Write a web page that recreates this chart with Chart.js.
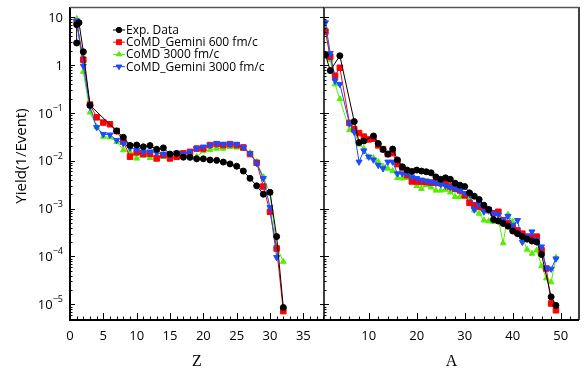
<!DOCTYPE html>
<html>
<head>
<meta charset="utf-8">
<script src="https://cdn.jsdelivr.net/npm/chart.js@4.4.0/dist/chart.umd.min.js"></script>
<style>
    html, body { margin: 0; padding: 0; background: #fff; }
    #wrap { position: relative; width: 584px; height: 374px; }
    canvas { position: absolute; left: 0; top: 0; }
</style>
</head>
<body>
<div id="wrap">
    <canvas id="chartZ" width="584" height="374"></canvas>
    <canvas id="chartA" width="584" height="374"></canvas>
</div>
<script>
"use strict"

// ---- Z distribution ----
const zExp = [1, 1, 1.35, 2, 3, 7, 8, 9, 10, 11, 12, 13, 14, 15, 16, 17, 18, 19, 20, 21, 22, 23, 24, 25, 26, 27, 28, 29, 30, 31, 32]
const yExpZ = [2.9, 7.0, 7.7, 1.9, 0.145, 0.042, 0.031, 0.021, 0.0214, 0.0196, 0.0208, 0.0174, 0.0186, 0.0138, 0.0142, 0.0119, 0.0118, 0.011, 0.011, 0.0104, 0.0102, 0.0094, 0.0086, 0.0077, 0.0061, 0.0043, 0.0030, 0.0020, 0.0022, 0.00026, 0.0000086]
const zSim = [1, 2, 3, 4, 5, 6, 7, 8, 9, 10, 11, 12, 13, 14, 15, 16, 17, 18, 19, 20, 21, 22, 23, 24, 25, 26, 27, 28, 29, 30, 31, 32]
const yGem600Z = [8.0, 1.3, 0.15, 0.081, 0.063, 0.058, 0.042, 0.025, 0.0122, 0.015, 0.0138, 0.014, 0.0112, 0.0132, 0.0112, 0.0121, 0.0143, 0.0154, 0.018, 0.018, 0.0213, 0.0223, 0.0213, 0.0223, 0.0213, 0.019, 0.0138, 0.0091, 0.0029, 0.00086, 0.000147, 0.0000072]
const yCoMD3000Z = [9.3, 0.73, 0.103, 0.0515, 0.032, 0.031, 0.025, 0.0168, 0.0155, 0.0112, 0.0129, 0.0115, 0.0132, 0.0121, 0.0121, 0.012, 0.0132, 0.0126, 0.0121, 0.016, 0.017, 0.018, 0.018, 0.0196, 0.019, 0.018, 0.0147, 0.0095, 0.0046, 0.0021, 0.00016, 0.000078]
const yGem3000Z = [8.5, 0.96, 0.135, 0.05, 0.036, 0.035, 0.027, 0.023, 0.0187, 0.017, 0.0155, 0.0155, 0.0147, 0.0138, 0.013, 0.0147, 0.0138, 0.0154, 0.018, 0.0196, 0.0213, 0.023, 0.0223, 0.0223, 0.0223, 0.019, 0.0143, 0.0089, 0.0043, 0.00106, 0.000096]

// ---- A distribution ----
const aExp = [1, 2, 4, 7, 8, 9, 11, 12, 13, 14, 15, 16, 17, 18, 19, 20, 21, 22, 23, 24, 25, 26, 27, 28, 29, 30, 31, 32, 33, 34, 35, 36, 37, 38, 39, 40, 41, 42, 43, 44, 45, 46, 48, 49]
const yExpA = [1.63, 0.77, 1.57, 0.066, 0.024, 0.026, 0.033, 0.023, 0.0173, 0.0138, 0.0176, 0.0104, 0.0075, 0.0064, 0.0060, 0.0064, 0.0061, 0.0059, 0.0056, 0.0046, 0.0041, 0.0044, 0.0041, 0.0034, 0.0031, 0.0029, 0.00214, 0.00182, 0.00155, 0.00118, 0.00096, 0.00059, 0.00055, 0.00049, 0.00043, 0.00034, 0.00030, 0.00026, 0.00023, 0.00021, 0.00020, 0.00011, 0.0000143, 0.0000095]
const aSim = [1, 2, 3, 4, 6, 7, 8, 9, 10, 11, 12, 13, 14, 15, 16, 17, 18, 19, 20, 21, 22, 23, 24, 25, 26, 27, 28, 29, 30, 31, 32, 33, 34, 35, 36, 37, 38, 39, 40, 41, 42, 43, 44, 45, 46, 47, 48, 49]
const yGem600A = [5.0, 1.5, 0.6, 0.88, 0.062, 0.046, 0.038, 0.032, 0.028, 0.029, 0.021, 0.0175, 0.0138, 0.0145, 0.0085, 0.0072, 0.0050, 0.0037, 0.0037, 0.0036, 0.0036, 0.0035, 0.0035, 0.0034, 0.0034, 0.0029, 0.0026, 0.0024, 0.0019, 0.00132, 0.00118, 0.00109, 0.00101, 0.00093, 0.00080, 0.00086, 0.00057, 0.00049, 0.00040, 0.00035, 0.00030, 0.00026, 0.00025, 0.00026, 0.000135, 0.000056, 0.0000104, 0.0000075]
const yCoMD3000A = [6.0, 1.3, 0.40, 0.195, 0.044, 0.042, 0.022, 0.018, 0.012, 0.0115, 0.0095, 0.0076, 0.0069, 0.0062, 0.0044, 0.0043, 0.0044, 0.0036, 0.0030, 0.0026, 0.0031, 0.0028, 0.0024, 0.0024, 0.0025, 0.0022, 0.00177, 0.00175, 0.00175, 0.0016, 0.00093, 0.00079, 0.00057, 0.00055, 0.00053, 0.00060, 0.00019, 0.00075, 0.00053, 0.00030, 0.00025, 0.00014, 0.000115, 0.000135, 0.000063, 0.000035, 0.000029, 0.000095]
const yGem3000A = [7.8, 1.76, 0.47, 0.40, 0.060, 0.040, 0.0095, 0.0163, 0.0121, 0.0105, 0.0081, 0.0069, 0.0095, 0.0095, 0.0054, 0.0054, 0.0054, 0.0046, 0.0043, 0.0040, 0.0038, 0.0036, 0.0034, 0.0032, 0.0030, 0.0028, 0.0026, 0.0024, 0.0021, 0.0020, 0.00095, 0.00125, 0.00086, 0.00090, 0.00079, 0.00075, 0.00057, 0.00070, 0.00045, 0.00057, 0.00020, 0.00026, 0.00033, 0.00022, 0.00016, 0.000056, 0.000055, 0.00009]

const seriesLabels = ["Exp. Data", "CoMD_Gemini 600 fm/c", "CoMD 3000 fm/c", "CoMD_Gemini 3000 fm/c"]
const yTickValues = [10, 1, 0.1, 0.01, 0.001, 0.0001, 0.00001]
const yTickBase = ["10", "1", "10", "10", "10", "10", "10"]
const yTickExp = ["", "", "\u22121", "\u22122", "\u22123", "\u22124", "\u22125"]
const zTickValues = [0, 5, 10, 15, 20, 25, 30, 35]
const aTickValues = [10, 20, 30, 40, 50]

// styles
const seriesColors = ['#000000', '#ff0000', '#55ee00', '#1a4cff']
const seriesPoints = ['circle', 'rect', 'triangle', 'triangle']
const seriesRotation = [0, 0, 0, 180]
const seriesRadius = [3.0, 3.9, 3.3, 3.5]
const seriesOrder = [0, 2, 3, 1]
const FONT = "'Open Sans', 'DejaVu Sans', sans-serif"
const SERIF = "'Liberation Serif', 'DejaVu Serif', serif"

function makeDatasets(xLists, yLists) {
    let datasets = []
    for (let i = 0; i < yLists.length; i++) {
        let pts = []
        for (let j = 0; j < yLists[i].length; j++) {
            pts.push({ x: xLists[i][j], y: yLists[i][j] })
        }
        datasets.push({
            label: seriesLabels[i],
            data: pts,
            order: seriesOrder[i],
            borderColor: seriesColors[i],
            backgroundColor: seriesColors[i],
            borderWidth: 1,
            pointStyle: seriesPoints[i],
            pointRotation: seriesRotation[i],
            pointRadius: seriesRadius[i],
            pointBorderWidth: 1,
            tension: 0
        })
    }
    return datasets
}

function drawFrameTicks(chart, minorStep, majorStep, isLeft) {
    const ctx = chart.ctx
    const area = chart.chartArea
    const xs = chart.scales.x
    const ys = chart.scales.y
    ctx.save()
    ctx.strokeStyle = '#000'
    ctx.lineWidth = 1
    ctx.beginPath()
    for (let v = Math.ceil(xs.min / minorStep) * minorStep; v <= xs.max; v += minorStep) {
        let px = Math.round(xs.getPixelForValue(v)) + 0.5
        let len = v % majorStep == 0 ? 7 : 3.5
        ctx.moveTo(px, area.bottom)
        ctx.lineTo(px, area.bottom - len)
    }
    for (let d = -6; d <= 1; d++) {
        for (let m = 1; m <= 9; m++) {
            let v = m * Math.pow(10, d)
            if (v < ys.min || v > ys.max) continue
            let py = Math.round(ys.getPixelForValue(v)) + 0.5
            let len = m == 1 ? 5 : 2.5
            ctx.moveTo(area.left, py)
            ctx.lineTo(area.left + len, py)
            if (!isLeft && m == 1) {
                ctx.moveTo(area.left, py)
                ctx.lineTo(area.left - 4, py)
            }
        }
    }
    ctx.stroke()

    // axes / box
    ctx.strokeStyle = '#000'
    ctx.lineWidth = 2
    ctx.beginPath()
    ctx.moveTo(area.left - 1, area.bottom)
    ctx.lineTo(area.right, area.bottom)
    ctx.stroke()
    ctx.lineWidth = isLeft ? 2 : 1.5
    ctx.beginPath()
    ctx.moveTo(area.left, area.top)
    ctx.lineTo(area.left, area.bottom)
    ctx.stroke()
    if (!isLeft) {
        ctx.lineWidth = 1.5
        ctx.beginPath()
        ctx.moveTo(area.right, area.top)
        ctx.lineTo(area.right, area.bottom)
        ctx.stroke()
    }
    ctx.strokeStyle = '#555'
    ctx.lineWidth = 1.5
    ctx.beginPath()
    ctx.moveTo(area.left, area.top + 0.5)
    ctx.lineTo(area.right, area.top + 0.5)
    ctx.stroke()
    ctx.restore()
}

const panelZPlugin = {
    id: 'panelZ',
    afterDraw(chart) {
        const ctx = chart.ctx
        const area = chart.chartArea
        const ys = chart.scales.y
        drawFrameTicks(chart, 1, 5, true)

        ctx.save()
        ctx.fillStyle = '#000'
        // y tick labels with superscripts
        for (let i = 0; i < yTickValues.length; i++) {
            let py = ys.getPixelForValue(yTickValues[i])
            let rightX = area.left - 7
            ctx.font = '9px ' + FONT
            let expW = yTickExp[i] ? ctx.measureText(yTickExp[i]).width : 0
            ctx.textAlign = 'right'
            if (yTickExp[i]) {
                ctx.textBaseline = 'alphabetic'
                ctx.fillText(yTickExp[i], rightX, py - 2)
            }
            ctx.font = '13px ' + FONT
            ctx.textBaseline = 'middle'
            ctx.fillText(yTickBase[i], rightX - expW, py + 1)
        }

        // axis titles
        ctx.font = '16px ' + SERIF
        ctx.textAlign = 'center'
        ctx.textBaseline = 'middle'
        ctx.fillText('Z', (area.left + area.right) / 2, 362)

        ctx.save()
        ctx.translate(22, 156)
        ctx.rotate(-Math.PI / 2)
        ctx.font = '15px ' + FONT
        ctx.fillText('Yield(1/Event)', 0, 0)
        ctx.restore()

        // legend
        const lx = 113
        for (let i = 0; i < chart.data.datasets.length; i++) {
            let ds = chart.data.datasets[i]
            let ly = 30 + i * 12.2
            ctx.strokeStyle = ds.borderColor
            ctx.fillStyle = ds.backgroundColor
            ctx.lineWidth = 1
            ctx.beginPath()
            ctx.moveTo(lx, ly)
            ctx.lineTo(lx + 12, ly)
            ctx.stroke()
            Chart.helpers.drawPoint(ctx, {
                pointStyle: ds.pointStyle,
                rotation: ds.pointRotation,
                radius: ds.pointRadius * 0.9,
                borderWidth: 1
            }, lx + 6, ly)
            ctx.fillStyle = '#000'
            ctx.font = '12px ' + FONT
            ctx.textAlign = 'left'
            ctx.textBaseline = 'middle'
            ctx.fillText(ds.label, lx + 13, ly + 0.5)
        }
        ctx.restore()
    }
}

const panelAPlugin = {
    id: 'panelA',
    afterDraw(chart) {
        const ctx = chart.ctx
        const area = chart.chartArea
        drawFrameTicks(chart, 2, 10, false)
        ctx.save()
        ctx.fillStyle = '#000'
        ctx.font = '16px ' + SERIF
        ctx.textAlign = 'center'
        ctx.textBaseline = 'middle'
        ctx.fillText('A', (area.left + area.right) / 2, 362)
        ctx.restore()
    }
}

function xScaleOptions(min, max, ticks) {
    return {
        type: 'linear',
        min: min,
        max: max,
        afterBuildTicks: s => { s.ticks = ticks.map(v => ({ value: v })) },
        afterFit: s => { s.height = 54 },
        grid: { display: false, drawTicks: false },
        border: { display: false },
        ticks: {
            color: '#000',
            font: { family: FONT, size: 13 },
            padding: 8,
            maxRotation: 0,
            autoSkip: false
        }
    }
}

function yScaleOptions(show) {
    return {
        type: 'logarithmic',
        min: 4.7e-6,
        max: 16.4,
        display: show,
        afterFit: s => { s.width = show ? 70 : 0 },
        grid: { display: false, drawTicks: false },
        border: { display: false },
        ticks: { display: false }
    }
}

const commonOptions = {
    responsive: false,
    animation: false,
    events: [],
    devicePixelRatio: 1,
    plugins: { legend: { display: false }, tooltip: { enabled: false }, title: { display: false } }
}

new Chart(document.getElementById('chartZ').getContext('2d'), {
    type: 'line',
    data: {
        datasets: makeDatasets([zExp, zSim, zSim, zSim], [yExpZ, yGem600Z, yCoMD3000Z, yGem3000Z])
    },
    options: Object.assign({}, commonOptions, {
        layout: { padding: { left: 0, right: 260, top: 7, bottom: 0 } },
        scales: {
            x: xScaleOptions(0, 38.1, zTickValues),
            y: yScaleOptions(true)
        }
    }),
    plugins: [panelZPlugin]
})

new Chart(document.getElementById('chartA').getContext('2d'), {
    type: 'line',
    data: {
        datasets: makeDatasets([aExp, aSim, aSim, aSim], [yExpA, yGem600A, yCoMD3000A, yGem3000A])
    },
    options: Object.assign({}, commonOptions, {
        layout: { padding: { left: 324, right: 5, top: 7, bottom: 0 } },
        scales: {
            x: xScaleOptions(0.7, 53.8, aTickValues),
            y: yScaleOptions(false)
        }
    }),
    plugins: [panelAPlugin]
})
</script>
</body>
</html>
